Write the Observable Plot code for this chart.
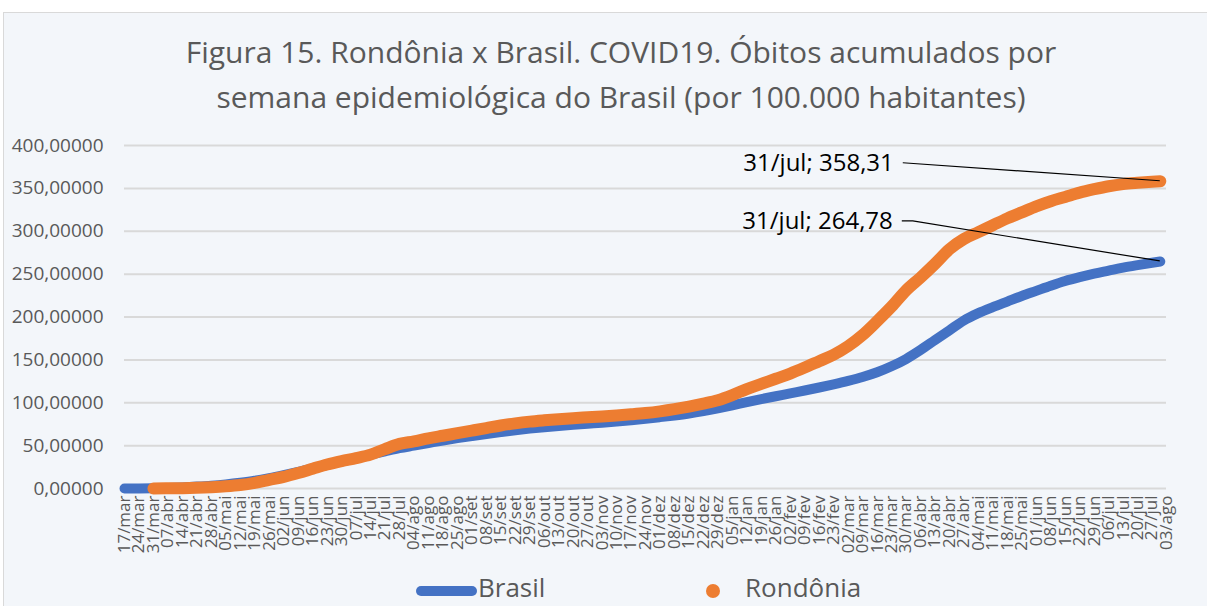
<!DOCTYPE html>
<html><head><meta charset="utf-8">
<script src="https://cdn.jsdelivr.net/npm/d3@7"></script>
<script src="https://cdn.jsdelivr.net/npm/@observablehq/plot@0.6"></script>
<style>
html,body{margin:0;padding:0;background:#fff;width:1207px;height:606px;overflow:hidden;font-family:"Open Sans",sans-serif;}
#box{position:absolute;left:3px;top:12px;width:1230px;height:620px;border:1px solid #d9d9d9;background:#f3f6fa;}
#title{position:absolute;left:0;width:1242px;top:29px;text-align:center;font-size:30px;line-height:45px;color:#595959;}
#chart{position:absolute;left:0;top:130px;}
.legtxt{position:absolute;top:570px;font-size:26px;line-height:35px;color:#595959;white-space:nowrap;}
</style></head><body>
<div id="box"></div>
<div id="title">Figura 15. Rondônia x Brasil. COVID19. Óbitos acumulados por<br>semana epidemiológica do Brasil (por 100.000 habitantes)</div>
<div id="chart"></div>
<div style="position:absolute;left:416px;top:586px;width:61px;height:10px;border-radius:5px;background:#4472C4;"></div>
<div class="legtxt" style="left:478px;">Brasil</div>
<div style="position:absolute;left:706px;top:584px;width:14px;height:14px;border-radius:7px;background:#ED7D31;"></div>
<div class="legtxt" style="left:745px;">Rondônia</div>
<script>
const monthsPt = ["jan","fev","mar","abr","mai","jun","jul","ago","set","out","nov","dez"];
const tickDates = [
 "2020-03-17","2020-03-24","2020-03-31","2020-04-07","2020-04-14","2020-04-21","2020-04-28",
 "2020-05-05","2020-05-12","2020-05-19","2020-05-26","2020-06-02","2020-06-09","2020-06-16",
 "2020-06-23","2020-06-30","2020-07-07","2020-07-14","2020-07-21","2020-07-28","2020-08-04",
 "2020-08-11","2020-08-18","2020-08-25","2020-09-01","2020-09-08","2020-09-15","2020-09-22",
 "2020-09-29","2020-10-06","2020-10-13","2020-10-20","2020-10-27","2020-11-03","2020-11-10",
 "2020-11-17","2020-11-24","2020-12-01","2020-12-08","2020-12-15","2020-12-22","2020-12-29",
 "2021-01-05","2021-01-12","2021-01-19","2021-01-26","2021-02-02","2021-02-09","2021-02-16",
 "2021-02-23","2021-03-02","2021-03-09","2021-03-16","2021-03-23","2021-03-30","2021-04-06",
 "2021-04-13","2021-04-20","2021-04-27","2021-05-04","2021-05-11","2021-05-18","2021-05-25",
 "2021-06-01","2021-06-08","2021-06-15","2021-06-22","2021-06-29","2021-07-06","2021-07-13",
 "2021-07-20","2021-07-27","2021-08-03"];
const pointDates = tickDates.slice(0, 72).concat(["2021-07-31"]);
const brasil = [
 0,0.05,0.3,0.7,1.3,2.2,3.3,4.8,6.7,9.0,12.0,15.5,19.3,23.5,27.5,31.5,35.5,39.5,43.3,47,
 50,53,56,58.7,61.2,63.6,65.8,67.9,69.8,71.5,73,74.3,75.5,76.6,78,79.6,81.3,83.2,85.2,87.5,
 90.3,93.5,97,100.8,104.3,107.6,111,114.3,117.8,121.5,125.5,130,135.5,142.5,151,161.5,173,184.5,196,204.5,
 211.5,218,224.5,230.5,236.5,242,246.5,250.5,254,257.5,260.5,263.3,264.78];
const rondonia = [
 null,null,0.1,0.2,0.4,0.8,1.5,2.5,4.0,6.5,10,13.5,18,23,28,32,35.5,39.5,46,52,
 55,58.5,61.5,64.5,67.5,70.5,73.5,76,78,79.5,80.8,82,83,84,85.2,86.5,88,90,92.5,95.5,
 99,103,109,116,122,128,134,141,148.5,156,166,179,195,212,231,246,262,279,291,299,
 307,315,322,329,335,340,345,349,352.5,355,356.5,357.7,358.31];
const yTicks = [0,50,100,150,200,250,300,350,400];
const annotations = [
 {series:"Rondônia", date:"2021-07-31", value:358.31, label:"31/jul; 358,31"},
 {series:"Brasil", date:"2021-07-31", value:264.78, label:"31/jul; 264,78"}
];

const parse = d3.utcParse("%Y-%m-%d");
const brRows = pointDates.map((d,i)=>({date:parse(d), v:brasil[i]}));
const roRows = pointDates.map((d,i)=>({date:parse(d), v:rondonia[i]})).filter(d=>d.v!=null);
const fmtTick = d => String(d.getUTCDate()).padStart(2,"0") + "/" + monthsPt[d.getUTCMonth()];

const chart = Plot.plot({
  width:1207, height:443,
  marginLeft:124, marginRight:41, marginTop:15, marginBottom:85,
  style:{background:"transparent", fontFamily:"Open Sans", fontSize:"17px", color:"#595959", overflow:"visible"},
  x:{type:"utc", domain:[parse("2020-03-17"), parse("2021-08-03")], ticks:tickDates.map(parse),
     tickFormat:fmtTick, tickRotate:-90, tickSize:0, tickPadding:7, label:null},
  y:{domain:[0,400], ticks:yTicks, tickFormat:d=>d.toFixed(5).replace(".",","), tickSize:0, tickPadding:21, label:null},
  marks:[
    Plot.ruleY(yTicks, {stroke:"#d9d9d9", strokeWidth:2}),
    Plot.line(brRows, {x:"date", y:"v", stroke:"#4472C4", strokeWidth:10, curve:"monotone-x", strokeLinecap:"round", strokeLinejoin:"round"}),
    Plot.line(roRows, {x:"date", y:"v", stroke:"#ED7D31", strokeWidth:12, curve:"monotone-x", strokeLinecap:"round", strokeLinejoin:"round"})
  ]
});
document.getElementById("chart").appendChild(chart);
const svg = d3.select(chart);
svg.selectAll('g[aria-label="y-axis"] text, g[aria-label="y-axis tick label"] text').attr("font-size","19px").attr("fill","#595959");
svg.selectAll('g[aria-label="x-axis"] text, g[aria-label="x-axis tick label"] text').attr("fill","#595959");

const xs = chart.scale("x"), ys = chart.scale("y");
const offsets = {"Rondônia":{dx:-257, dy:-18, h:0}, "Brasil":{dx:-258, dy:-40, h:11}};
const g = svg.append("g");
annotations.forEach(a=>{
  const px = xs.apply(parse(a.date)), py = ys.apply(a.value);
  const o = offsets[a.series];
  const sx = px + o.dx, sy = py + o.dy;
  g.append("path").attr("d", `M${sx},${sy}H${sx+o.h}L${px},${py}`)
    .attr("fill","none").attr("stroke","#000").attr("stroke-width",1.2);
  g.append("text").attr("x", sx-9).attr("y", sy).attr("dy","0.35em")
    .attr("text-anchor","end").attr("font-size","24px").attr("fill","#000")
    .attr("font-family","Open Sans").text(a.label);
});
</script>
</body></html>
